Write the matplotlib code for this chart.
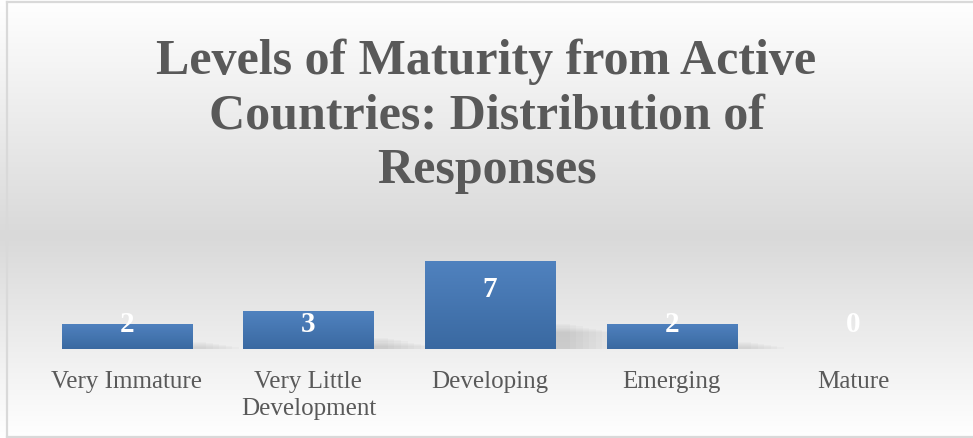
import numpy as np
import matplotlib.pyplot as plt
from matplotlib.colors import LinearSegmentedColormap
from matplotlib.patches import Rectangle
from matplotlib.lines import Line2D

categories = ['Very Immature', 'Very Little\nDevelopment', 'Developing', 'Emerging', 'Mature']
responses = [2, 3, 7, 2, 0]
title = 'Levels of Maturity from Active\nCountries: Distribution of\nResponses'

serif = ['Liberation Serif', 'DejaVu Serif']

fig = plt.figure(figsize=(9.73, 4.39), dpi=100)

# background gradient (white -> gray -> white)
bg = fig.add_axes([0, 0, 1, 1], zorder=-10)
bg_cmap = LinearSegmentedColormap.from_list(
    'bg', [(0.0, '#ffffff'), (0.54, '#d9d9d9'), (1.0, '#ffffff')])
yy = np.linspace(0, 1, 256).reshape(-1, 1)
bg.imshow(yy, cmap=bg_cmap, aspect='auto', extent=[0, 1, 1, 0], vmin=0, vmax=1)
bg.set_xlim(0, 1)
bg.set_ylim(1, 0)
bg.axis('off')

# frame
W, H = 973, 439
fcol = '#d9d9d9'
fig.add_artist(Line2D([7 / W, 7 / W], [1 - 3 / H, 1 - 438 / H], color=fcol, lw=1.6))
fig.add_artist(Line2D([7 / W, 1], [1 - 3 / H, 1 - 3 / H], color=fcol, lw=1.6))
fig.add_artist(Line2D([7 / W, 1], [1 - 438 / H, 1 - 438 / H], color=fcol, lw=1.6))

ax = fig.add_axes([36 / W, 89 / H, 908 / W, 151 / H])
ax.set_facecolor('none')
x = np.arange(len(categories))
bw = 0.716

bars = ax.bar(x, responses, width=bw, color='#4a7ab5', zorder=3)

# soft shadows to the right of each bar
for xi, v in zip(x, responses):
    if v == 0:
        continue
    sh = min(v * 0.3, 2.0)
    for k in range(8):
        grow = k * 0.018
        ax.add_patch(Rectangle((xi - bw / 2 + 0.06, -0.03 - grow),
                               bw + 0.02 + 2 * grow, sh - grow * 4,
                               facecolor='#7f7f7f', alpha=0.04,
                               edgecolor='none', zorder=2))

# gradient fill on bars
bar_cmap = LinearSegmentedColormap.from_list('bar', ['#3a69a1', '#5082bf'])
grad = np.linspace(0, 1, 128).reshape(-1, 1)
for b in bars:
    if b.get_height() <= 0:
        continue
    im = ax.imshow(grad, cmap=bar_cmap, aspect='auto', origin='lower',
                   extent=[b.get_x(), b.get_x() + b.get_width(), 0, b.get_height()],
                   zorder=4)
    im.set_clip_path(b)

# data labels
for xi, v in zip(x, responses):
    ax.text(xi, max(v - 2.2, 2.06), str(v), ha='center', va='center',
            color='white', fontsize=21, fontweight='bold', family=serif, zorder=5)

ax.set_xlim(-0.5, len(categories) - 0.5)
ax.set_ylim(0, 12)
ax.set_xticks(x)
ax.set_xticklabels(categories, fontsize=18, color='#595959', family=serif,
                   linespacing=1.32)
ax.tick_params(axis='x', length=0, pad=15)
ax.set_yticks([])
for s in ax.spines.values():
    s.set_visible(False)

fig.text(0.5, 1 - 116 / H, title, ha='center', va='center', fontsize=36,
         fontweight='bold', color='#595959', family=serif, linespacing=1.24)

fig.savefig('out.png', dpi=100)
